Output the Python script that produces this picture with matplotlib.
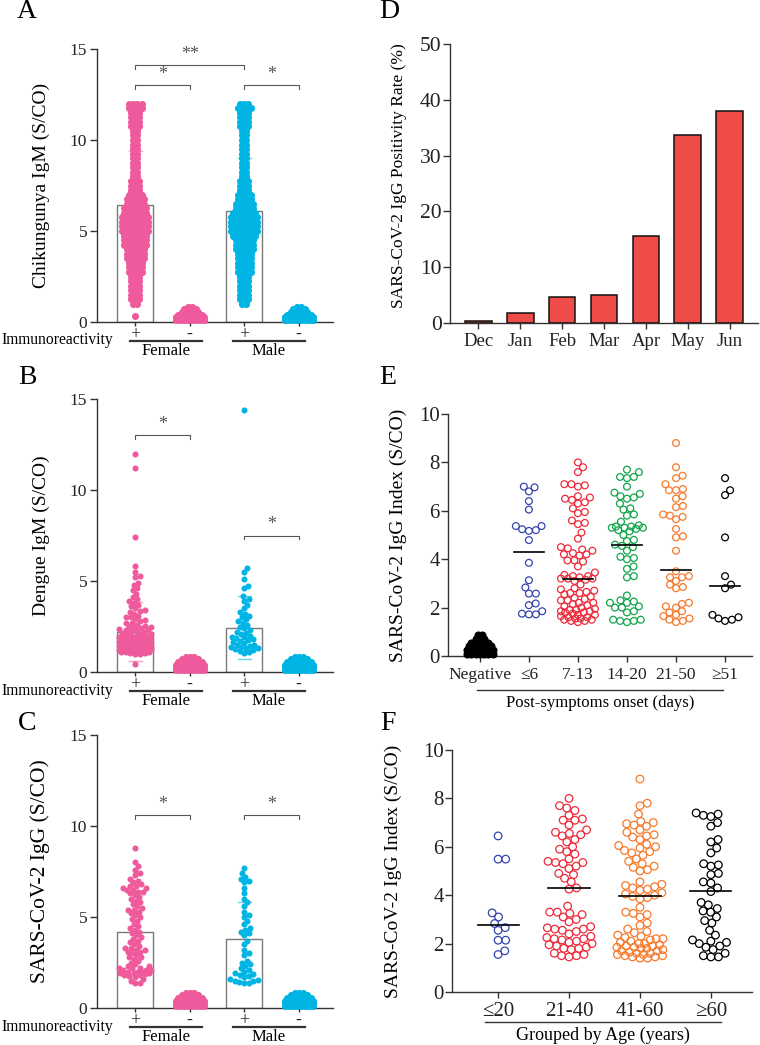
import numpy as np
import matplotlib
matplotlib.use("Agg")
import matplotlib.pyplot as plt
from matplotlib.transforms import blended_transform_factory

plt.rcParams['font.family'] = ['Liberation Serif', 'DejaVu Serif']

W, H = 760, 1045

PINK = '#EE5A9C'
CYAN = '#00B4E4'
BAR_RED = '#EF4B48'
SPINE = '#333333'
GREY = '#555555'

# ---------------- data ----------------
groups_sex = ['+', '-', '+', '-']
sex_names = ['Female', 'Male']

# A: Chikungunya IgM, dense swarm given as value levels and dots per level
chik_levels = [1.0, 1.25, 1.5, 1.75, 2.0, 2.25, 2.5, 2.75, 3.0, 3.25, 3.5, 3.75,
               4.0, 4.25, 4.5, 4.75, 5.0, 5.25, 5.5, 5.75, 6.0, 6.25, 6.5, 6.75,
               7.0, 7.25, 7.5, 7.75, 8.0, 8.25, 8.5, 8.75, 9.0, 9.25, 9.5, 9.75,
               10.0, 10.25, 10.5, 10.75, 11.0, 11.25, 11.5, 11.75, 12.0]
chik_f_pos_counts = [2, 3, 3, 3, 3, 3, 3, 4, 4, 4, 5, 5,
                     5, 6, 6, 6, 7, 7, 7, 7, 6, 6, 5, 5,
                     4, 3, 3, 3, 2, 2, 2, 2, 2, 2, 2, 2,
                     2, 2, 2, 3, 3, 3, 3, 4, 4]
chik_m_pos_counts = [2, 3, 3, 3, 3, 3, 3, 4, 4, 4, 4, 4,
                     5, 5, 5, 6, 7, 7, 7, 7, 6, 5, 5, 4,
                     4, 3, 3, 3, 2, 2, 2, 2, 2, 2, 2, 2,
                     2, 2, 2, 3, 3, 3, 3, 4, 3]
chik_f_extra = [0.35]
neg_levels = [0.1, 0.25, 0.4, 0.55, 0.7, 0.85]
chik_f_neg_counts = [8, 8, 7, 5, 4, 2]
chik_m_neg_counts = [8, 8, 7, 5, 4, 2]
chik_mean = [6.45, 6.1]
chik_err_hi = [9.4, 9.0]
chik_err_lo = [3.5, 3.2]

# B: Dengue IgM
dengue_f_pos = [12.0, 11.2, 7.4, 5.8, 5.5, 5.3, 5.2, 4.9, 4.8, 4.6, 4.5, 4.3, 4.1, 4.0,
                3.9, 3.8, 3.7, 3.6, 3.5, 3.4, 3.35, 3.3, 3.2, 3.1, 3.0, 3.0, 2.9, 2.85,
                2.8, 2.7, 2.7, 2.6, 2.55, 2.5, 2.45, 2.4, 2.4, 2.35, 2.3, 2.3, 2.25, 2.2,
                2.2, 2.15, 2.1, 2.1, 2.05, 2.0, 2.0, 1.95, 1.9, 1.9, 1.85, 1.85, 1.8, 1.8,
                1.75, 1.75, 1.7, 1.7, 1.65, 1.65, 1.6, 1.6, 1.6, 1.55, 1.55, 1.5, 1.5, 1.5,
                1.45, 1.45, 1.45, 1.4, 1.4, 1.4, 1.4, 1.35, 1.35, 1.35, 1.35, 1.3, 1.3, 1.3,
                1.3, 1.3, 1.25, 1.25, 1.25, 1.25, 1.2, 1.2, 1.2, 1.2, 1.15, 1.15, 1.15, 1.1,
                1.1, 1.1, 1.05, 1.05, 1.0, 1.0, 0.45]
dengue_m_pos = [14.4, 5.7, 5.5, 5.1, 4.75, 4.6, 4.15, 4.0, 3.9, 3.7, 3.5, 3.3, 3.2, 3.1,
                3.0, 2.9, 2.8, 2.7, 2.6, 2.5, 2.4, 2.3, 2.2, 2.15, 2.1, 2.0, 1.95, 1.9,
                1.85, 1.8, 1.75, 1.7, 1.65, 1.6, 1.5, 1.5, 1.45, 1.4, 1.35, 1.3, 1.3, 1.25,
                1.2, 1.15, 1.1, 1.05]
dengue_f_neg_counts = [8, 8, 8, 7, 5, 3]
dengue_m_neg_counts = [8, 8, 8, 7, 5, 3]
dengue_mean = [2.2, 2.4]
dengue_err_hi = [3.85, 4.15]
dengue_err_lo = [0.6, 0.7]

# C: SARS-CoV-2 IgG by sex
sars_f_pos = [8.8, 8.0, 7.8, 7.6, 7.4, 7.3, 7.1, 7.0, 6.9, 6.8, 6.7, 6.7, 6.6, 6.6, 6.5,
              6.5, 6.4, 6.4, 6.3, 6.2, 6.1, 6.0, 5.9, 5.8, 5.7, 5.6, 5.5, 5.4, 5.4, 5.3,
              5.2, 5.1, 5.0, 4.9, 4.8, 4.6, 4.5, 4.4, 4.3, 4.2, 4.1, 4.0, 3.9, 3.8, 3.7,
              3.6, 3.5, 3.4, 3.3, 3.3, 3.2, 3.2, 3.1, 3.1, 3.0, 2.9, 2.8, 2.8, 2.7, 2.6,
              2.5, 2.4, 2.3, 2.3, 2.2, 2.2, 2.2, 2.1, 2.1, 2.1, 2.0, 2.0, 2.0, 1.95, 1.9,
              1.9, 1.85, 1.8, 1.8, 1.75, 1.7, 1.6, 1.5, 1.4, 1.4]
sars_m_pos = [7.7, 7.4, 7.2, 7.1, 7.0, 6.9, 6.6, 6.3, 6.0, 5.8, 5.6, 5.3, 5.1, 5.0, 4.8,
              4.6, 4.4, 4.3, 4.2, 4.1, 4.0, 3.7, 3.5, 3.2, 3.0, 2.9, 2.6, 2.5, 2.4, 2.3,
              2.2, 2.1, 2.0, 1.9, 1.85, 1.8, 1.75, 1.7, 1.6, 1.55, 1.5, 1.5, 1.45, 1.4, 1.4]
sars_f_neg_counts = [8, 8, 8, 7, 5, 3]
sars_m_neg_counts = [8, 8, 8, 7, 5, 3]
sars_mean = [4.2, 3.8]
sars_err_hi = [6.3, 5.8]
sars_err_lo = [2.1, 1.8]

# D: positivity rate by month
months = ['Dec', 'Jan', 'Feb', 'Mar', 'Apr', 'May', 'Jun']
positivity = [0.4, 1.8, 4.7, 5.1, 15.6, 33.7, 38.0]

# E: by days after symptom onset
onset_labels = ['Negative', '≤6', '7-13', '14-20', '21-50', '≥51']
onset_colors = ['black', '#3645AE', '#EE2A3A', '#12A64B', '#F7792A', 'black']
onset_neg_counts = [7, 7, 6, 5, 3, 2]
onset_le6 = [7.0, 6.97, 6.8, 6.4, 6.05, 5.37, 5.37, 5.24, 5.2, 5.17, 4.79, 3.85, 3.13,
             2.83, 2.58, 2.58, 2.17, 2.1, 1.85, 1.75, 1.72, 1.72]
onset_7_13 = [8.0, 7.8, 7.6, 7.1, 7.05, 7.0, 7.1, 6.6, 6.55, 6.5, 6.45, 6.35, 6.3, 6.1,
              5.9, 5.95, 5.6, 5.5, 5.45, 5.1, 4.85, 4.5, 4.45, 4.4, 4.35, 4.25, 4.2, 4.2,
              4.15, 3.95, 3.9, 3.95, 3.7, 3.45, 3.35, 3.3, 3.3, 3.25, 3.2, 3.2, 3.2, 3.15,
              3.1, 2.95, 2.8, 2.75, 2.7, 2.65, 2.6, 2.6, 2.55, 2.45, 2.4, 2.35, 2.3, 2.3,
              2.2, 2.2, 2.15, 2.1, 2.05, 2.0, 1.95, 1.9, 1.9, 1.85, 1.85, 1.8, 1.8, 1.75,
              1.7, 1.7, 1.65, 1.6, 1.6, 1.55, 1.55, 1.5, 1.5, 1.45, 1.45, 1.4]
onset_14_20 = [7.7, 7.6, 7.4, 7.4, 7.35, 7.0, 6.75, 6.7, 6.6, 6.55, 6.5, 6.3, 6.1, 6.05,
               5.85, 5.8, 5.55, 5.4, 5.35, 5.35, 5.3, 5.3, 5.3, 5.25, 5.2, 5.15, 5.0, 4.8,
               4.75, 4.6, 4.55, 4.5, 4.35, 4.1, 4.05, 4.0, 3.7, 3.6, 3.3, 3.25, 2.5, 2.3,
               2.25, 2.2, 2.2, 2.05, 2.0, 2.0, 1.85, 1.8, 1.5, 1.5, 1.45, 1.45, 1.4]
onset_21_50 = [8.8, 7.8, 7.45, 7.35, 7.1, 6.9, 6.85, 6.85, 6.6, 6.5, 6.2, 6.15, 5.85, 5.8,
               5.75, 5.65, 5.25, 4.95, 4.9, 4.35, 3.5, 3.3, 3.25, 3.25, 3.1, 2.95, 2.85,
               2.8, 2.2, 2.15, 2.05, 2.0, 1.85, 1.8, 1.7, 1.65, 1.55, 1.5, 1.45, 1.4]
onset_ge51 = [7.35, 6.85, 6.65, 4.9, 3.3, 2.95, 2.8, 1.7, 1.6, 1.55, 1.5, 1.45]
onset_medians = [4.3, 3.2, 4.57, 3.55, 2.88]

# F: by age group
age_labels = ['≤20', '21-40', '41-60', '≥60']
age_colors = ['#3645AE', '#EE2A3A', '#F7792A', 'black']
age_le20 = [6.45, 5.49, 5.49, 3.27, 3.1, 2.83, 2.66, 2.55, 2.14, 2.14, 1.7, 1.55]
age_21_40 = [8.0, 7.7, 7.6, 7.5, 7.3, 7.15, 7.1, 7.1, 6.9, 6.7, 6.6, 6.55, 6.5, 6.45, 6.3,
             6.2, 6.0, 5.9, 5.8, 5.7, 5.5, 5.4, 5.35, 5.35, 5.3, 5.2, 5.1, 4.9, 4.85, 4.7,
             4.55, 4.3, 4.25, 3.55, 3.3, 3.3, 3.25, 3.2, 3.1, 3.0, 2.9, 2.7, 2.65, 2.6,
             2.6, 2.55, 2.5, 2.4, 2.3, 2.25, 2.2, 2.2, 2.15, 2.1, 2.05, 2.0, 1.95, 1.9,
             1.85, 1.8, 1.8, 1.75, 1.6, 1.55, 1.5, 1.5, 1.45]
age_41_60 = [8.8, 7.8, 7.7, 7.35, 7.05, 7.0, 6.95, 6.9, 6.85, 6.7, 6.6, 6.5, 6.45, 6.4,
             6.3, 6.1, 6.05, 6.0, 5.95, 5.85, 5.8, 5.75, 5.65, 5.5, 5.4, 5.3, 5.2, 5.15,
             5.05, 5.0, 4.55, 4.45, 4.4, 4.35, 4.3, 4.25, 4.2, 4.1, 4.05, 4.0, 3.95, 3.9,
             3.85, 3.5, 3.3, 3.25, 3.2, 3.1, 2.85, 2.75, 2.6, 2.5, 2.45, 2.35, 2.3, 2.25,
             2.2, 2.2, 2.15, 2.1, 2.05, 2.0, 2.0, 1.95, 1.9, 1.9, 1.85, 1.85, 1.8, 1.8,
             1.75, 1.7, 1.7, 1.65, 1.6, 1.6, 1.55, 1.55, 1.5, 1.5, 1.45, 1.45, 1.4, 1.4]
age_ge60 = [7.4, 7.35, 7.3, 7.25, 7.0, 6.85, 6.3, 6.2, 5.95, 5.75, 5.3, 5.25, 5.2, 4.9,
            4.85, 4.55, 4.5, 4.3, 4.15, 3.7, 3.6, 3.45, 3.35, 3.3, 3.1, 2.95, 2.85, 2.55,
            2.35, 2.15, 2.1, 2.05, 2.0, 1.9, 1.85, 1.75, 1.6, 1.5, 1.45, 1.45]
age_medians = [2.75, 4.3, 3.95, 4.17]


# ---------------- helpers ----------------
def box(left, top, right, bottom):
    return [left / W, 1 - bottom / H, (right - left) / W, (bottom - top) / H]


def swarm_x(values, center, xppu, yppu, d, max_half=None):
    vals = np.asarray(values, float)
    xs = np.zeros(len(vals))
    placed = []
    for i in np.argsort(vals, kind='stable'):
        y = vals[i] * yppu
        near = [(px, py) for px, py in placed if abs(py - y) < d]
        cands = [0.0]
        for px, py in near:
            dx = np.sqrt(d * d - (py - y) ** 2)
            cands += [px + dx, px - dx]
        cands.sort(key=abs)
        chosen = None
        for c in cands:
            if max_half is not None and abs(c) > max_half:
                continue
            if all((c - px) ** 2 + (y - py) ** 2 >= d * d - 1e-6 for px, py in near):
                chosen = c
                break
        if chosen is None:
            grid = np.linspace(-max_half, max_half, 41)
            clear = [min((g - px) ** 2 + (y - py) ** 2 for px, py in near) for g in grid]
            chosen = grid[int(np.argmax(clear))]
        placed.append((chosen, y))
        xs[i] = center + chosen / xppu
    return xs


def rows(levels, counts, center, xppu, spacing):
    xs, ys = [], []
    for lv, n in zip(levels, counts):
        for j in range(n):
            xs.append(center + (j - (n - 1) / 2) * spacing / xppu)
            ys.append(lv)
    return xs, ys


def style_axes(ax, lw=1.0):
    for s in ['top', 'right']:
        ax.spines[s].set_visible(False)
    for s in ['left', 'bottom']:
        ax.spines[s].set_color(SPINE)
        ax.spines[s].set_linewidth(lw)
    ax.tick_params(colors=SPINE, width=lw, labelcolor='#222222')


def sex_panel(ax, label_y, pos_pts, dense, neg_counts, means, err_hi, err_lo,
              brackets, ylabel, ylabel_size, xppu):
    style_axes(ax)
    ax.set_xlim(-0.70, 3.63)
    ax.set_ylim(0, 15)
    ax.set_yticks([0, 5, 10, 15])
    ax.tick_params(axis='y', length=5, pad=2, labelsize=12.5)
    ax.set_xticks([0, 1, 2, 3])
    ax.set_xticklabels(groups_sex, fontsize=13)
    ax.tick_params(axis='x', length=3, pad=0)
    colors = [PINK, CYAN]
    size = 26 if dense else 19
    for k in range(2):
        xc = 2 * k
        ax.bar(xc, means[k], width=0.66, color='white', edgecolor='#7a7a7a',
               linewidth=1.0, zorder=1)
        ax.plot([xc - 0.12, xc + 0.12], [err_hi[k]] * 2, color=colors[k],
                lw=1.0, alpha=0.6, zorder=2)
        ax.plot([xc - 0.12, xc + 0.12], [err_lo[k]] * 2, color=colors[k],
                lw=1.0, alpha=0.6, zorder=2)
        xs, ys = pos_pts[k]
        ax.scatter(xs, ys, s=size, color=colors[k], linewidths=0, zorder=3,
                   clip_on=False)
        nx, ny = rows(neg_levels, neg_counts[k], xc + 1, xppu, 4.0)
        ax.scatter(nx, ny, s=26, color=colors[k], linewidths=0, zorder=3,
                   clip_on=False)
    for x0, x1, yb, txt in brackets:
        ax.plot([x0, x0, x1, x1], [yb - 0.2, yb, yb, yb - 0.2], color=GREY,
                lw=0.8, zorder=4)
        ax.text((x0 + x1) / 2, yb + 0.12, txt, ha='center', va='bottom',
                fontsize=13, color=GREY)
    ax.set_ylabel(ylabel, fontsize=ylabel_size)
    ax.yaxis.set_label_coords(-0.20, 0.5)
    tr = blended_transform_factory(ax.transData, ax.transAxes)
    for x0, x1, name in [(-0.09, 1.22, sex_names[0]), (1.80, 3.11, sex_names[1])]:
        ax.plot([x0, x1], [-0.07, -0.07], color=SPINE, lw=1.6, transform=tr,
                clip_on=False)
        ax.text((x0 + x1) / 2, -0.076, name, ha='center', va='top', fontsize=12,
                transform=tr)
    fig.text(1 / W, 1 - label_y / H, 'Immunoreactivity', ha='left', va='center',
             fontsize=11.2)


fig = plt.figure(figsize=(W / 100, H / 100), dpi=100)

# ---------------- A ----------------
xppu_s, yppu_s = 236 / 4.33, 273 / 15
axA = fig.add_axes(box(97, 49, 333, 322))
fx, fy = rows(chik_levels, chik_f_pos_counts, 0, xppu_s, 4.3)
fx, fy = fx + [0.0] * len(chik_f_extra), fy + chik_f_extra
mx, my = rows(chik_levels, chik_m_pos_counts, 2, xppu_s, 4.3)
sex_panel(axA, 340, [(fx, fy), (mx, my)], True,
          [chik_f_neg_counts, chik_m_neg_counts],
          chik_mean, chik_err_hi, chik_err_lo,
          [(0, 1, 13.0, '*'), (2, 3, 13.0, '*'), (0, 2, 14.1, '**')],
          'Chikungunya IgM (S/CO)', 14, xppu_s)

# ---------------- B ----------------
axB = fig.add_axes(box(97, 399, 333, 672))
bf = (swarm_x(dengue_f_pos, 0, xppu_s, yppu_s, 4.8, 16), dengue_f_pos)
bm = (swarm_x(dengue_m_pos, 2, xppu_s, yppu_s, 4.8, 16), dengue_m_pos)
sex_panel(axB, 691, [bf, bm], False, [dengue_f_neg_counts, dengue_m_neg_counts],
          dengue_mean, dengue_err_hi, dengue_err_lo,
          [(0, 1, 13.0, '*'), (2, 3, 7.5, '*')],
          'Dengue IgM (S/CO)', 14, xppu_s)

# ---------------- C ----------------
axC = fig.add_axes(box(97, 735, 333, 1008))
cf = (swarm_x(sars_f_pos, 0, xppu_s, yppu_s, 4.8, 16), sars_f_pos)
cm = (swarm_x(sars_m_pos, 2, xppu_s, yppu_s, 4.8, 16), sars_m_pos)
sex_panel(axC, 1027, [cf, cm], False, [sars_f_neg_counts, sars_m_neg_counts],
          sars_mean, sars_err_hi, sars_err_lo,
          [(0, 1, 10.6, '*'), (2, 3, 10.6, '*')],
          'SARS-CoV-2 IgG (S/CO)', 15.5, xppu_s)

# ---------------- D ----------------
axD = fig.add_axes(box(450, 44, 758, 323))
style_axes(axD)
xd = np.arange(len(months))
axD.bar(xd, positivity, width=0.64, color=BAR_RED, edgecolor='#111111',
        linewidth=1.1)
axD.set_xlim(-0.67, 6.67)
axD.set_ylim(0, 50)
axD.set_yticks(range(0, 51, 10))
axD.set_xticks(xd)
axD.set_xticklabels(months, fontsize=13.5)
axD.tick_params(axis='y', length=5, pad=1, labelsize=15.5)
axD.tick_params(axis='x', length=4, pad=3)
axD.set_ylabel('SARS-CoV-2 IgG Positivity Rate (%)', fontsize=12.5)
axD.yaxis.set_label_coords(-0.14, 0.53)

# ---------------- E ----------------
axE = fig.add_axes(box(448, 414, 752, 656))
style_axes(axE)
xppu_e, yppu_e = 304 / 6.2, 242 / 10
axE.set_xlim(-0.65, 5.55)
axE.set_ylim(0, 10)
axE.set_yticks(range(0, 11, 2))
axE.set_xticks(range(len(onset_labels)))
axE.set_xticklabels(onset_labels, fontsize=12.5)
axE.tick_params(axis='y', length=5, pad=1, labelsize=15)
axE.tick_params(axis='x', length=4, pad=4)
nx, ny = rows(neg_levels, onset_neg_counts, 0, xppu_e, 4.3)
axE.scatter(nx, ny, s=34, color='black', linewidths=0, zorder=3, clip_on=False)
onset_groups = [onset_le6, onset_7_13, onset_14_20, onset_21_50, onset_ge51]
for k, vals in enumerate(onset_groups):
    xs = swarm_x(vals, k + 1, xppu_e, yppu_e, 7.0, 17)
    axE.scatter(xs, vals, s=24, facecolors='none', edgecolors=onset_colors[k + 1],
                linewidths=0.9, zorder=3)
    axE.plot([k + 1 - 0.31, k + 1 + 0.31], [onset_medians[k]] * 2, color='black',
             lw=1.2, zorder=4)
axE.set_ylabel('SARS-CoV-2 IgG Index (S/CO)', fontsize=14)
axE.yaxis.set_label_coords(-0.135, 0.5)
trE = blended_transform_factory(axE.transData, axE.transAxes)
axE.plot([-0.06, 4.96], [-0.14, -0.14], color=SPINE, lw=1.0, transform=trE,
         clip_on=False)
axE.text(2.45, -0.16, 'Post-symptoms onset (days)', ha='center', va='top',
         fontsize=12, transform=trE)

# ---------------- F ----------------
axF = fig.add_axes(box(452, 750, 752, 992))
style_axes(axF)
xppu_f, yppu_f = 300 / 4.23, 242 / 10
axF.set_xlim(-0.65, 3.58)
axF.set_ylim(0, 10)
axF.set_yticks(range(0, 11, 2))
axF.set_xticks(range(len(age_labels)))
axF.set_xticklabels(age_labels, fontsize=15)
axF.tick_params(axis='y', length=5, pad=1, labelsize=15)
axF.tick_params(axis='x', length=4, pad=3)
age_groups = [age_le20, age_21_40, age_41_60, age_ge60]
for k, vals in enumerate(age_groups):
    xs = swarm_x(vals, k, xppu_f, yppu_f, 7.6, 23)
    axF.scatter(xs, vals, s=30, facecolors='none', edgecolors=age_colors[k],
                linewidths=0.9, zorder=3)
    axF.plot([k - 0.29, k + 0.29], [age_medians[k]] * 2, color='black', lw=1.2,
             zorder=4)
axF.set_ylabel('SARS-CoV-2 IgG Index (S/CO)', fontsize=14)
axF.yaxis.set_label_coords(-0.165, 0.5)
trF = blended_transform_factory(axF.transData, axF.transAxes)
axF.plot([-0.18, 3.14], [-0.124, -0.124], color=SPINE, lw=1.0, transform=trF,
         clip_on=False)
axF.text(1.48, -0.145, 'Grouped by Age (years)', ha='center', va='top',
         fontsize=13, transform=trF)

# panel letters
for letter, (px, py) in zip('ABCDEF', [(27, 12), (27, 377), (27, 724),
                                       (389, 11), (388, 378), (388, 723)]):
    fig.text(px / W, 1 - py / H, letter, ha='center', va='center', fontsize=20)

fig.savefig('out.png', dpi=100)
